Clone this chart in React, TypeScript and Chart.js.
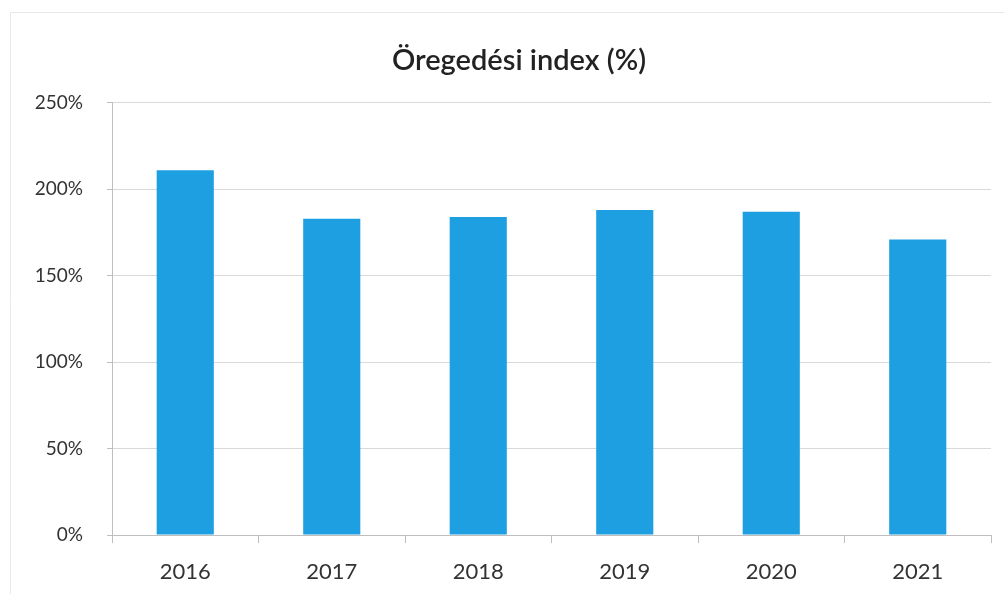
import React, { useEffect, useRef } from "react";
import { Chart, registerables } from "chart.js";

Chart.register(...registerables);

const years = ["2016", "2017", "2018", "2019", "2020", "2021"];
const agingIndex = [211, 183, 184, 188, 187, 171];
const yTicks = [0, 50, 100, 150, 200, 250];
const titleText = "Öregedési index (%)";

const FONT = "Lato, 'Open Sans', 'Noto Sans', sans-serif";

export default function App() {
  const ref = useRef<HTMLCanvasElement | null>(null);

  useEffect(() => {
    if (!ref.current) return;
    const framePlugin = {
      id: "frame",
      afterLayout(chart: any) {
        if (chart.titleBlock) chart.titleBlock.left = 47;
      },
      beforeDraw(chart: any) {
        const ctx = chart.ctx;
        ctx.save();
        ctx.strokeStyle = "#e8e8e8";
        ctx.lineWidth = 1;
        ctx.beginPath();
        ctx.moveTo(10.5, 594);
        ctx.lineTo(10.5, 12.5);
        ctx.lineTo(1004, 12.5);
        ctx.stroke();
        ctx.restore();
      },
    };
    const chart = new Chart(ref.current, {
      type: "bar",
      data: {
        labels: years,
        datasets: [
          {
            data: agingIndex,
            backgroundColor: "#1E9FE2",
            borderWidth: 0,
            barPercentage: 0.39,
            categoryPercentage: 1,
          },
        ],
      },
      options: {
        responsive: false,
        animation: false,
        maintainAspectRatio: false,
        layout: { padding: { left: 0, right: 15, top: 0, bottom: 11 } },
        plugins: {
          legend: { display: false },
          tooltip: { enabled: false },
          title: {
            display: true,
            text: titleText,
            color: "#222",
            font: { family: FONT, size: 29, weight: "600", lineHeight: 1.2 },
            padding: { top: 43, bottom: 25 },
          },
        },
        scales: {
          x: {
            offset: true,
            grid: {
              offset: true,
              drawOnChartArea: false,
              drawTicks: true,
              tickLength: 8,
              color: "#bfbfbf",
            },
            border: { color: "#bfbfbf" },
            ticks: {
              color: "#333",
              font: { family: FONT, size: 22 },
              padding: 16,
              maxRotation: 0,
            },
            afterFit(scale: any) {
              scale.height = 49;
            },
          },
          y: {
            min: 0,
            max: 250,
            afterBuildTicks(scale: any) {
              scale.ticks = yTicks.map((v) => ({ value: v }));
            },
            grid: {
              color: "#d9d9d9",
              tickLength: 5,
              tickColor: "#bfbfbf",
            },
            border: { color: "#bfbfbf" },
            ticks: {
              color: "#333",
              font: { family: FONT, size: 19 },
              padding: 24,
              callback: (v: any) => v + "%",
            },
            afterFit(scale: any) {
              scale.width = 112;
            },
          },
        },
      },
      plugins: [framePlugin],
    });
    return () => chart.destroy();
  }, []);

  return (
    <div style={{ position: "fixed", left: 0, top: 0, width: 1006, height: 595, background: "#fff" }}>
      <canvas ref={ref} width={1006} height={595} style={{ display: "block" }} />
    </div>
  );
}
